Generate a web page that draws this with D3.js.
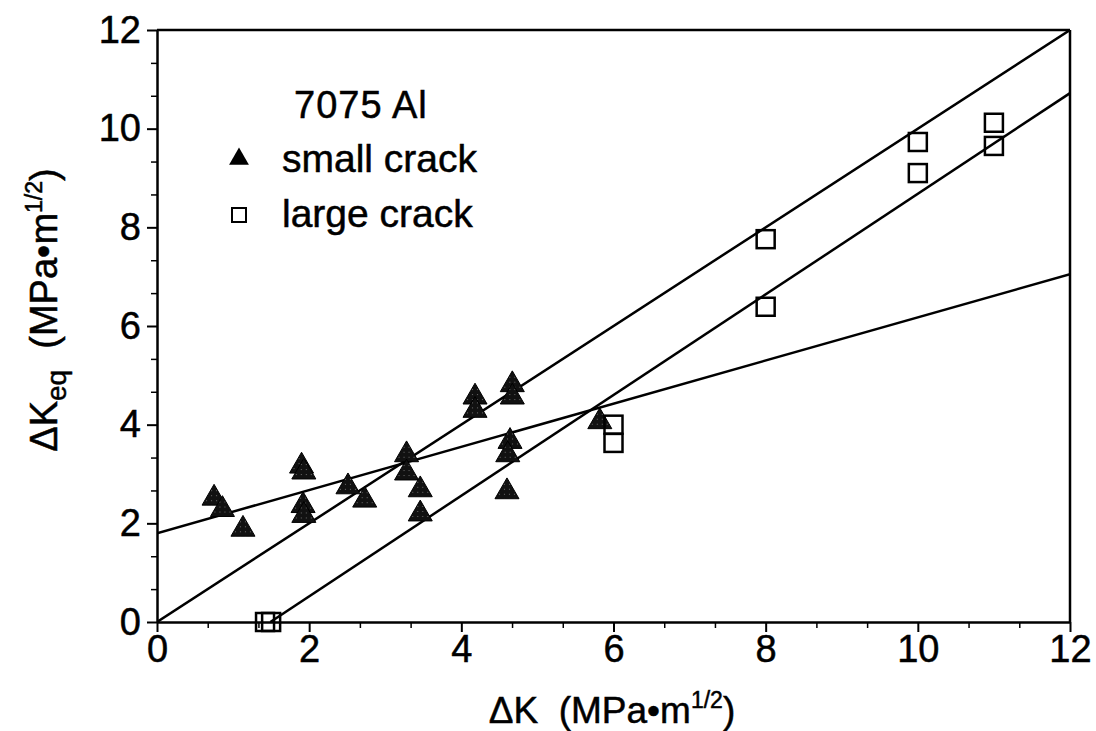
<!DOCTYPE html>
<html>
<head>
<meta charset="utf-8">
<script src="https://cdn.jsdelivr.net/npm/d3@7"></script>
<style>
  html, body { margin: 0; padding: 0; background: #fff; }
  svg { display: block; }
  text { font-family: "Liberation Sans", Arial, Helvetica, sans-serif; fill: #000; stroke: #000; stroke-width: 0.5px; white-space: pre; }
</style>
</head>
<body>
<svg id="chart" width="1096" height="731"></svg>
<script>
// ΔK_eq versus ΔK for 7075 Al, small and large cracks
const smallCrackDK = [0.75, 0.86, 1.13, 1.9, 1.93, 1.92, 1.93, 2.51, 2.73, 3.28, 3.28, 3.46, 3.46, 4.18, 4.18, 4.67, 4.67, 4.64, 4.61, 4.6, 5.82];
const smallCrackDKeq = [2.55, 2.32, 1.92, 3.2, 3.08, 2.4, 2.2, 2.78, 2.51, 3.43, 3.06, 2.72, 2.23, 4.6, 4.33, 4.85, 4.6, 3.7, 3.43, 2.68, 4.1];

const largeCrackDK = [1.42, 1.5, 6.0, 6.0, 8.0, 8.0, 10.0, 10.0, 11.0, 11.0];
const largeCrackDKeq = [0, 0, 4.0, 3.63, 7.76, 6.39, 9.73, 9.1, 10.12, 9.65];

// Fitted lines: ΔK_eq = slope * ΔK + intercept
const fitSlopes = [1.0, 1.02, 0.4375];
const fitIntercepts = [0, -1.52, 1.8];

const xTicks = [0, 2, 4, 6, 8, 10, 12];
const yTicks = [0, 2, 4, 6, 8, 10, 12];
const legendTitle = "7075 Al";
const legendLabels = ["small crack", "large crack"];

const svg = d3.select("#chart");
const m = { left: 157, right: 1070, top: 30, bottom: 622 };
const x = d3.scaleLinear().domain([0, 12]).range([m.left, m.right]);
const y = d3.scaleLinear().domain([0, 12]).range([m.bottom, m.top]);

// stipple fill for the triangles
const defs = svg.append("defs");
const pat = defs.append("pattern").attr("id", "stip").attr("patternUnits", "userSpaceOnUse")
  .attr("width", 5).attr("height", 5);
pat.append("rect").attr("width", 5).attr("height", 5).attr("fill", "#111");
pat.append("circle").attr("cx", 2.5).attr("cy", 2.5).attr("r", 0.6).attr("fill", "#777");
defs.append("clipPath").attr("id", "plotClip").append("rect")
  .attr("x", m.left).attr("y", m.top).attr("width", m.right - m.left).attr("height", m.bottom - m.top);

// minor ticks every 2/3 unit
const minor = d3.range(0, 12.001, 2 / 3).filter(v => Math.abs(Math.round(v) - v) > 1e-6 || Math.round(v) % 2 === 1);

const axisFont = "38px";

// x axis
const xAxis = svg.append("g").attr("transform", `translate(0,${m.bottom})`)
  .call(d3.axisBottom(x).tickValues(xTicks).tickSize(10).tickSizeOuter(0).tickPadding(3).tickFormat(d3.format("d")));
xAxis.select(".domain").attr("stroke-width", 2.5);
xAxis.selectAll(".tick line").attr("stroke-width", 2);
xAxis.selectAll("text").style("font-size", axisFont);
svg.append("g").attr("transform", `translate(0,${m.bottom})`)
  .call(d3.axisBottom(x).tickValues(minor).tickSize(6).tickFormat(""))
  .call(g => g.select(".domain").remove())
  .selectAll(".tick line").attr("stroke-width", 1.5);

// y axis
const yAxis = svg.append("g").attr("transform", `translate(${m.left},0)`)
  .call(d3.axisLeft(y).tickValues(yTicks).tickSize(10).tickSizeOuter(0).tickPadding(6).tickFormat(d3.format("d")));
yAxis.select(".domain").attr("stroke-width", 2.5);
yAxis.selectAll(".tick line").attr("stroke-width", 2);
yAxis.selectAll("text").style("font-size", axisFont);
svg.append("g").attr("transform", `translate(${m.left},0)`)
  .call(d3.axisLeft(y).tickValues(minor).tickSize(6).tickFormat(""))
  .call(g => g.select(".domain").remove())
  .selectAll(".tick line").attr("stroke-width", 1.5);

// top and right frame
svg.append("line").attr("x1", x(0)).attr("x2", x(12)).attr("y1", y(12)).attr("y2", y(12))
  .attr("stroke", "#000").attr("stroke-width", 2.5);
svg.append("line").attr("x1", x(12)).attr("x2", x(12)).attr("y1", y(12)).attr("y2", y(0))
  .attr("stroke", "#000").attr("stroke-width", 2.5);

// fitted lines
const fits = fitSlopes.map((s, i) => ({ s, b: fitIntercepts[i] }));
svg.append("g").attr("clip-path", "url(#plotClip)").selectAll("line").data(fits).join("line")
  .attr("x1", d => x(Math.max(0, -d.b / d.s)))
  .attr("y1", d => y(d.s * Math.max(0, -d.b / d.s) + d.b))
  .attr("x2", x(12)).attr("y2", d => y(d.s * 12 + d.b))
  .attr("stroke", "#000").attr("stroke-width", 2.5);

// markers
const triPath = d3.symbol().type(d3.symbolTriangle).size(250);
const small = smallCrackDK.map((v, i) => [v, smallCrackDKeq[i]]);
const large = largeCrackDK.map((v, i) => [v, largeCrackDKeq[i]]);

svg.append("g").selectAll("path").data(small).join("path")
  .attr("d", triPath)
  .attr("transform", d => `translate(${x(d[0])},${y(d[1]) + 2})`)
  .attr("fill", "url(#stip)").attr("stroke", "#000").attr("stroke-width", 1);

const sq = 18;
svg.append("g").selectAll("rect").data(large).join("rect")
  .attr("x", d => x(d[0]) - sq / 2).attr("y", d => y(d[1]) - sq / 2)
  .attr("width", sq).attr("height", sq)
  .attr("fill", "none").attr("stroke", "#000").attr("stroke-width", 2.5);

// legend
const legendFont = "39px";
svg.append("text").attr("x", 294).attr("y", 118).style("font-size", "38px")
  .style("letter-spacing", "1px").text(legendTitle);
svg.append("path").attr("d", d3.symbol().type(d3.symbolTriangle).size(170))
  .attr("transform", "translate(239,159)").attr("fill", "#000");
svg.append("text").attr("x", 282).attr("y", 172).style("font-size", legendFont).text(legendLabels[0]);
svg.append("rect").attr("x", 232).attr("y", 208).attr("width", 14).attr("height", 14)
  .attr("fill", "none").attr("stroke", "#000").attr("stroke-width", 2);
svg.append("text").attr("x", 282).attr("y", 227).style("font-size", legendFont).text(legendLabels[1]);

// axis titles
const labelFont = "37px";
const xl = svg.append("text").attr("x", 612).attr("y", 723).attr("text-anchor", "middle").style("font-size", labelFont);
xl.append("tspan").text("ΔK  (MPa•m");
xl.append("tspan").attr("dy", -15).style("font-size", "23px").text("1/2");
xl.append("tspan").attr("dy", 15).text(")");

const yl = svg.append("text").attr("transform", "translate(57,310) rotate(-90)").attr("text-anchor", "middle").style("font-size", "38px");
yl.append("tspan").text("ΔK");
yl.append("tspan").attr("dy", 9).style("font-size", "28px").text("eq");
yl.append("tspan").attr("dy", -9).text("  (MPa•m");
yl.append("tspan").attr("dy", -15).style("font-size", "23px").text("1/2");
yl.append("tspan").attr("dy", 15).text(")");
</script>
</body>
</html>
